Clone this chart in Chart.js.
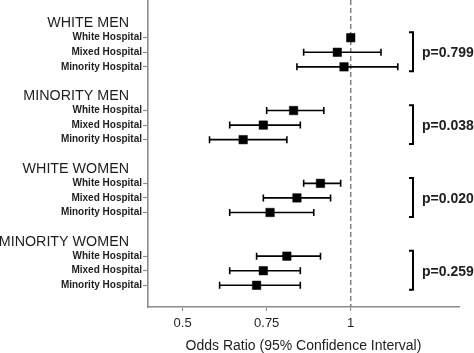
<!DOCTYPE html>
<html>
<head>
<meta charset="utf-8">
<script src="https://cdn.jsdelivr.net/npm/chart.js@4.4.1/dist/chart.umd.min.js"></script>
<style>
  body { margin: 0; background: #fff; }
  #wrap { width: 474px; height: 353px; }
</style>
</head>
<body>
<div id="wrap"><canvas id="orChart" width="474" height="353"></canvas></div>
<script>
const groups = ['WHITE MEN', 'MINORITY MEN', 'WHITE WOMEN', 'MINORITY WOMEN'];
const hospitals = ['White Hospital', 'Mixed Hospital', 'Minority Hospital'];
const oddsRatio = [1.00, 0.96, 0.98, 0.83, 0.74, 0.68, 0.91, 0.84, 0.76, 0.81, 0.74, 0.72];
const ciLow = [null, 0.86, 0.84, 0.75, 0.64, 0.58, 0.86, 0.74, 0.64, 0.72, 0.64, 0.61];
const ciHigh = [null, 1.09, 1.14, 0.92, 0.85, 0.81, 0.97, 0.94, 0.89, 0.91, 0.85, 0.85];
const pValues = ['p=0.799', 'p=0.038', 'p=0.020', 'p=0.259'];
const xTicks = [0.5, 0.75, 1];
const xTickLabels = ['0.5', '0.75', '1'];

const axisGrey = '#8c8c8c';
const textColor = '#1e1e1e';
const font = '"Liberation Sans", Arial, sans-serif';

// each group takes 5 rows: header, 3 hospitals, blank
function rowOf(i) {
    return Math.floor(i / 3) * 5 + (i % 3) + 1;
}

const points = oddsRatio.map((v, i) => ({ x: v, y: rowOf(i) }));
const hospitalRows = oddsRatio.map((v, i) => rowOf(i));

const errorBars = {
    id: 'errorBars',
    beforeDatasetsDraw(chart) {
        const ctx = chart.ctx;
        const xs = chart.scales.x, ys = chart.scales.y;
        ctx.save();
        ctx.strokeStyle = '#000';
        ctx.lineWidth = 1.6;
        for (let i = 0; i < oddsRatio.length; i++) {
            if (ciLow[i] === null) continue;
            const y = ys.getPixelForValue(rowOf(i));
            const x1 = xs.getPixelForValue(ciLow[i]);
            const x2 = xs.getPixelForValue(ciHigh[i]);
            ctx.beginPath();
            ctx.moveTo(x1, y); ctx.lineTo(x2, y);
            ctx.moveTo(x1, y - 3.5); ctx.lineTo(x1, y + 3.5);
            ctx.moveTo(x2, y - 3.5); ctx.lineTo(x2, y + 3.5);
            ctx.stroke();
        }
        ctx.restore();
    }
};

const refLine = {
    id: 'refLine',
    beforeDatasetsDraw(chart) {
        const ctx = chart.ctx, area = chart.chartArea;
        const x = chart.scales.x.getPixelForValue(1);
        ctx.save();
        ctx.strokeStyle = '#777';
        ctx.lineWidth = 1.4;
        ctx.setLineDash([5, 3]);
        ctx.beginPath();
        ctx.moveTo(x, area.top);
        ctx.lineTo(x, area.bottom);
        ctx.stroke();
        ctx.restore();
    }
};

const groupLabels = {
    id: 'groupLabels',
    afterDraw(chart) {
        const ctx = chart.ctx, area = chart.chartArea;
        const ys = chart.scales.y;
        ctx.save();
        ctx.fillStyle = textColor;
        ctx.textBaseline = 'middle';
        groups.forEach((g, k) => {
            const top = ys.getPixelForValue(k * 5 + 1);
            const mid = ys.getPixelForValue(k * 5 + 2);
            const bot = ys.getPixelForValue(k * 5 + 3);
            // header on the left
            ctx.font = '14.3px ' + font;
            ctx.textAlign = 'right';
            ctx.fillText(g, 129, ys.getPixelForValue(k * 5));
            // bracket
            const bx = area.right - 46;
            ctx.strokeStyle = '#000';
            ctx.lineWidth = 2;
            ctx.beginPath();
            ctx.moveTo(bx - 4, top - 5.4);
            ctx.lineTo(bx, top - 5.4);
            ctx.lineTo(bx, bot + 4.4);
            ctx.lineTo(bx - 4, bot + 4.4);
            ctx.stroke();
            // p value
            ctx.font = 'bold 14px ' + font;
            ctx.textAlign = 'left';
            ctx.fillText(pValues[k], bx + 9, mid + 1);
        });
        ctx.restore();
    }
};

const ctx = document.getElementById('orChart').getContext('2d');
new Chart(ctx, {
    type: 'scatter',
    data: {
        datasets: [{
            data: points,
            pointStyle: 'rect',
            pointRadius: 6,
            pointHoverRadius: 6,
            backgroundColor: '#000',
            borderColor: '#000',
            borderWidth: 0.5
        }]
    },
    options: {
        responsive: false,
        animation: false,
        layout: { autoPadding: false, padding: { top: 0, right: 15, bottom: 0, left: 0 } },
        plugins: {
            legend: { display: false },
            tooltip: { enabled: false }
        },
        scales: {
            x: {
                type: 'linear',
                min: 0.397,
                max: 1.322,
                afterBuildTicks: scale => { scale.ticks = xTicks.map(v => ({ value: v })); },
                afterFit: scale => { scale.height = 46; scale.paddingLeft = 0; scale.paddingRight = 0; },
                ticks: {
                    color: textColor,
                    font: { family: font, size: 13 },
                    padding: 5,
                    callback: (value) => xTickLabels[xTicks.indexOf(value)]
                },
                grid: { drawOnChartArea: false, tickLength: 4, color: axisGrey, tickWidth: 1.2 },
                border: { color: axisGrey, width: 1.6 },
                title: {
                    display: true,
                    text: 'Odds Ratio (95% Confidence Interval)',
                    color: textColor,
                    font: { family: font, size: 14 },
                    padding: { top: 0, bottom: -1.5 }
                }
            },
            y: {
                type: 'linear',
                reverse: true,
                min: -1.59,
                max: 19.49,
                afterBuildTicks: scale => { scale.ticks = hospitalRows.map(v => ({ value: v })); },
                afterFit: scale => { scale.width = 148; scale.paddingTop = 0; scale.paddingBottom = 0; },
                ticks: {
                    color: textColor,
                    font: { family: font, size: 10, weight: 'bold' },
                    padding: 1,
                    callback: (value) => hospitals[(value % 5) - 1]
                },
                grid: { drawOnChartArea: false, tickLength: 5, color: axisGrey, tickWidth: 1.2 },
                border: { color: axisGrey, width: 1.6 }
            }
        }
    },
    plugins: [refLine, errorBars, groupLabels]
});
</script>
</body>
</html>
